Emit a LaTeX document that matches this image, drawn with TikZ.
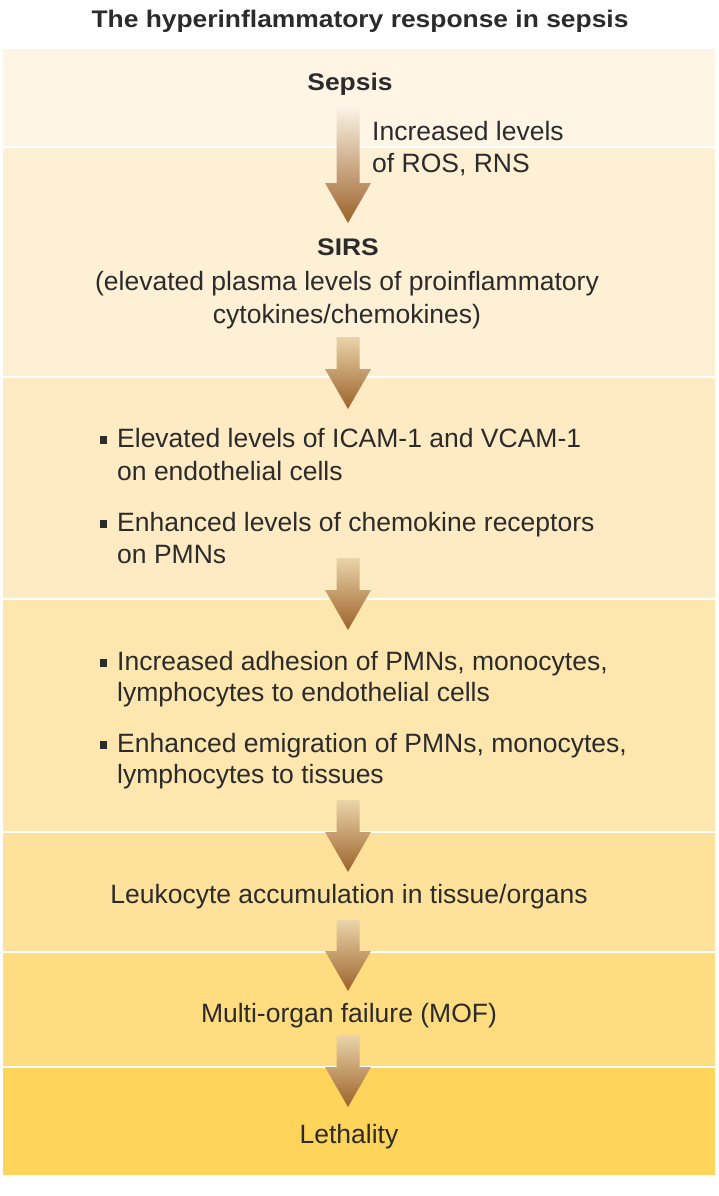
\documentclass[tikz,border=0pt]{standalone}
\usepackage{fontspec}
\setmainfont{Liberation Sans}
\newfontfamily\hbold[FakeStretch=1.1]{Liberation Sans}
\usetikzlibrary{calc}
\definecolor{bandA}{HTML}{FEF5E5}
\definecolor{bandB}{HTML}{FEF0D5}
\definecolor{bandC}{HTML}{FEEBC3}
\definecolor{bandD}{HTML}{FEE6AF}
\definecolor{bandE}{HTML}{FEE29C}
\definecolor{bandF}{HTML}{FEDC7F}
\definecolor{bandG}{HTML}{FED45A}
\definecolor{txt}{HTML}{2B2B2B}
\definecolor{arrowdark}{HTML}{9C6229}
\definecolor{arrowlight}{HTML}{EAD4AA}
\definecolor{arrowpale}{HTML}{FBF3E6}
\tikzset{
  bodytext/.style={anchor=base, inner sep=0pt, text=txt, font=\fontsize{26.5}{32}\selectfont},
  bodyleft/.style={bodytext, anchor=base west},
  boldtext/.style={anchor=base, inner sep=0pt, text=txt, font=\hbold\bfseries\fontsize{24}{28}\selectfont},
  bulletsq/.style={fill=txt, minimum size=7.5pt, inner sep=0pt, outer sep=0pt},
}
\newcommand\fatarrow[3]{%
  \path[top color=#3, bottom color=arrowdark] let \p1=(#1), \p2=(#2) in
  (\x1-11.5pt,\y1) -- (\x1+11.5pt,\y1) -- (\x1+11.5pt,\y2+40pt) -- (\x1+23pt,\y2+40pt)
  -- (\x2,\y2) -- (\x1-23pt,\y2+40pt) -- (\x1-11.5pt,\y2+40pt) -- cycle;}
\begin{document}
\begin{tikzpicture}[x=1pt,y=-1pt]
\useasboundingbox[fill=white] (0,0) rectangle (718,1196);
% bands
\fill[bandA] (3,49) rectangle (715,146);
\fill[bandB] (3,148) rectangle (715,376);
\fill[bandC] (3,378) rectangle (715,598);
\fill[bandD] (3,600) rectangle (715,831);
\fill[bandE] (3,833) rectangle (715,951);
\fill[bandF] (3,953) rectangle (715,1066);
\fill[bandG] (3,1068) rectangle (715,1175);
% title
\node[boldtext] (title) at (360,28) {The hyperinflammatory response in sepsis};
% arrows
\coordinate (a1s) at (348,107); \coordinate (a1e) at (348,223);
\coordinate (a2s) at (348,337); \coordinate (a2e) at (348,409);
\coordinate (a3s) at (348,558); \coordinate (a3e) at (348,630);
\coordinate (a4s) at (348,800); \coordinate (a4e) at (348,872);
\coordinate (a5s) at (348,920); \coordinate (a5e) at (348,991);
\coordinate (a6s) at (348,1035); \coordinate (a6e) at (348,1107);
\fatarrow{a1s}{a1e}{arrowpale}
\fatarrow{a2s}{a2e}{arrowlight}
\fatarrow{a3s}{a3e}{arrowlight}
\fatarrow{a4s}{a4e}{arrowlight}
\fatarrow{a5s}{a5e}{arrowlight}
\fatarrow{a6s}{a6e}{arrowlight}
% band 1-2
\node[boldtext] (sepsis) at (350,91) {Sepsis};
\node[bodyleft] (ros1) at (372,140) {Increased levels};
\node[bodyleft] (ros2) at (372,172) {of ROS, RNS};
\node[boldtext] (sirs) at (348,255) {SIRS};
\node[bodytext] (sirs1) at (347,290) {(elevated plasma levels of proinflammatory};
\node[bodytext] (sirs2) at (347,323) {cytokines/chemokines)};
% band 3
\node[bulletsq] (b1) at (103.5,440) {};
\node[bodyleft] (icam1) at (117,447) {Elevated levels of ICAM-1 and VCAM-1};
\node[bodyleft] (icam2) at (117,480) {on endothelial cells};
\node[bulletsq] (b2) at (103.5,524) {};
\node[bodyleft] (chem1) at (117,531) {Enhanced levels of chemokine receptors};
\node[bodyleft] (chem2) at (117,563) {on PMNs};
% band 4
\node[bulletsq] (b3) at (103.5,663) {};
\node[bodyleft] (adh1) at (117,670) {Increased adhesion of PMNs, monocytes,};
\node[bodyleft] (adh2) at (117,701) {lymphocytes to endothelial cells};
\node[bulletsq] (b4) at (103.5,745) {};
\node[bodyleft] (emi1) at (117,752) {Enhanced emigration of PMNs, monocytes,};
\node[bodyleft] (emi2) at (117,783) {lymphocytes to tissues};
% bands 5-7
\node[bodytext] (leuk) at (349,903) {Leukocyte accumulation in tissue/organs};
\node[bodytext] (mof) at (349,1022) {Multi-organ failure (MOF)};
\node[bodytext] (leth) at (349,1143) {Lethality};
\end{tikzpicture}
\end{document}
